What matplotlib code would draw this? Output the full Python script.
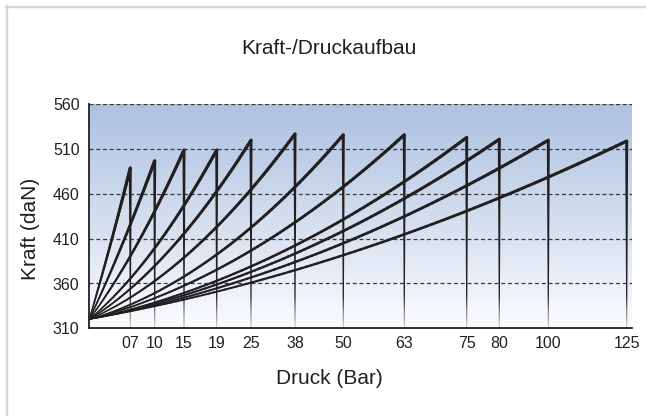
import numpy as np
import matplotlib.pyplot as plt
from matplotlib.collections import LineCollection
from matplotlib.colors import LinearSegmentedColormap
from matplotlib.bezier import BezierSegment
from matplotlib.lines import Line2D
from matplotlib.patches import Polygon

plt.rcParams['font.family'] = ['Liberation Sans', 'DejaVu Sans']

# Druckstufen (Bar) und ihre Lage auf der x-Achse
druck_labels = ["07", "10", "15", "19", "25", "38", "50", "63", "75", "80", "100", "125"]
druck_pos = [41.0, 65.4, 94.7, 127.4, 161.7, 205.7, 254.0, 315.0, 377.4, 410.0, 459.0, 537.4]
x_ende = 542.4

# Kraft (daN): Startwert, Wert auf halbem Weg, Endwert
kraft_start = 320
kraft_mitte = [401, 403, 403, 397, 398, 397, 392, 394, 393, 393, 394, 397]
kraft_spitze = [489, 497, 509, 509, 520, 527, 526, 526, 523, 521, 520, 519]

y_ticks = [310, 360, 410, 460, 510, 560]

farbe = "#231f20"

fig = plt.figure(figsize=(6.46, 4.16), dpi=100)
ax = fig.add_axes([89.3 / 646, 1 - 328.3 / 416, x_ende / 646, 224 / 416])

# Hintergrundverlauf
cmap = LinearSegmentedColormap.from_list("verlauf", ["#fbfcfe", "#d3ddee", "#adc1e1"])
ax.imshow(np.linspace(1, 0, 256).reshape(-1, 1), extent=[0, x_ende, 310, 560],
          aspect="auto", cmap=cmap, zorder=0)

for y in y_ticks[1:]:
    ax.axhline(y, color="#3a3a3a", lw=0.9, ls=(0, (3.2, 2.2)), zorder=1)

# Verlauf fuer die senkrechten Linien (unten heller)
cmap_v = LinearSegmentedColormap.from_list(
    "senkrecht", [(0, "#c4c4c4"), (0.05, "#8a8a8a"), (0.14, farbe), (1, farbe)])
grad_v = np.linspace(1, 0, 256).reshape(-1, 1)

for xp, ym, yp in zip(druck_pos, kraft_mitte, kraft_spitze):
    # Kurve als quadratische Bezier durch Start, Mitte und Spitze
    ctrl_y = 2 * ym - 0.5 * (kraft_start + yp)
    seg = BezierSegment(np.array([[0, kraft_start], [xp / 2, ctrl_y], [xp, yp]]))
    t = np.linspace(0, 1, 100)
    pts = seg(t)
    segs = np.stack([pts[:-1], pts[1:]], axis=1)
    lc = LineCollection(segs, linewidths=0.5 + 1.8 * t[1:] ** 0.45,
                        colors=farbe, capstyle="round", zorder=3)
    ax.add_collection(lc)

    # senkrechter Abfall als spitz zulaufender Keil
    keil = Polygon([[xp - 1.5, yp], [xp + 1.5, yp], [xp + 0.45, 310], [xp - 0.45, 310]],
                   closed=True, transform=ax.transData)
    im = ax.imshow(grad_v, extent=[xp - 2, xp + 2, 310, 560], aspect="auto",
                   cmap=cmap_v, vmin=0, vmax=1, zorder=3)
    im.set_clip_path(keil)

ax.set_xlim(0, x_ende)
ax.set_ylim(310, 560)
ax.set_xticks(druck_pos)
ax.set_xticklabels(druck_labels)
ax.set_yticks(y_ticks)
ax.tick_params(length=0, labelsize=11.5, colors=farbe)
ax.tick_params(axis="x", pad=5.5)
ax.tick_params(axis="y", pad=7)
for s in ["top", "right"]:
    ax.spines[s].set_visible(False)
for s in ["left", "bottom"]:
    ax.spines[s].set_color(farbe)
    ax.spines[s].set_linewidth(1.3)
    ax.spines[s].set_zorder(4)

fig.text(329 / 646, 1 - 48 / 416, "Kraft-/Druckaufbau", ha="center", va="center",
         fontsize=15, color=farbe)
fig.text(30 / 646, 1 - 229 / 416, "Kraft (daN)", ha="center", va="center",
         rotation=90, fontsize=15, color=farbe)
fig.text(329.5 / 646, 1 - 378 / 416, "Druck (Bar)", ha="center", va="center",
         fontsize=15, color=farbe)

# grauer Rahmen oben und links
fig.add_artist(Line2D([6 / 646, 1], [1 - 6.5 / 416, 1 - 6.5 / 416],
                      color="#d6d6d6", lw=1.7, transform=fig.transFigure))
fig.add_artist(Line2D([7 / 646, 7 / 646], [0, 1 - 6 / 416],
                      color="#d6d6d6", lw=1.7, transform=fig.transFigure))

fig.savefig("out.png", dpi=100)
